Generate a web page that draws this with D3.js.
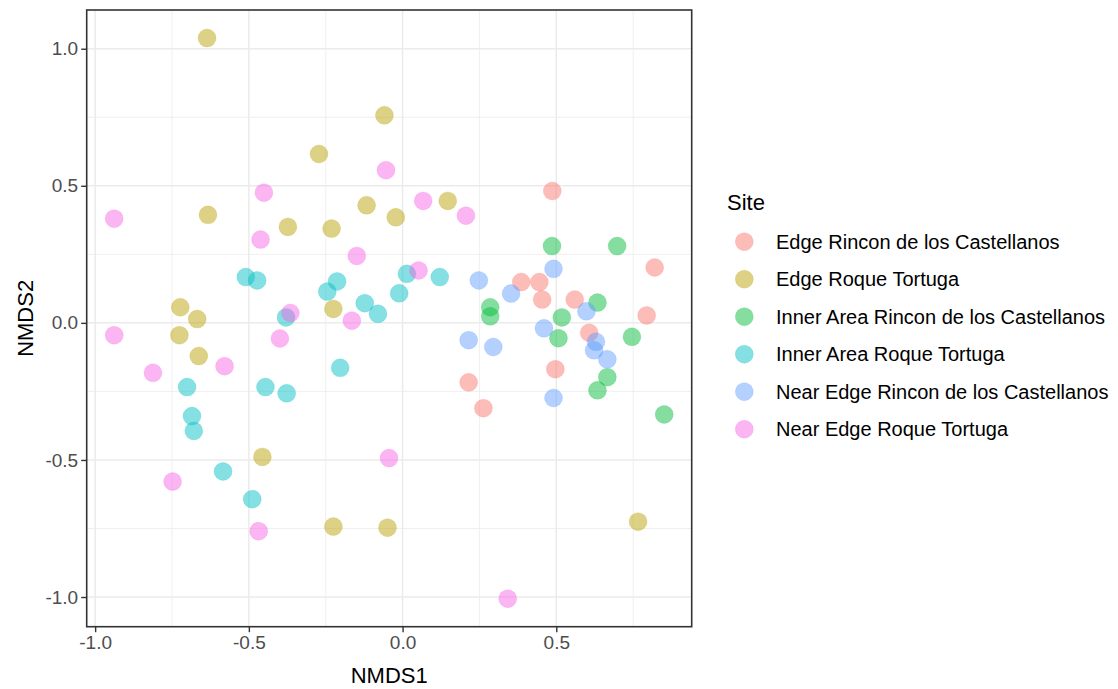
<!DOCTYPE html>
<html><head><meta charset="utf-8">
<script src="https://cdn.jsdelivr.net/npm/d3@7/dist/d3.min.js"></script>
<style>
body{margin:0;background:#fff}
svg{display:block}
text{font-family:"Liberation Sans",Arial,sans-serif}
</style>
</head><body>
<svg id="chart" width="1118" height="689"></svg>
<script>
// ---- data ----
const sites = ["Edge Rincon de los Castellanos","Edge Roque Tortuga","Inner Area Rincon de los Castellanos","Inner Area Roque Tortuga","Near Edge Rincon de los Castellanos","Near Edge Roque Tortuga"];
const siteColors = ["#F8766D","#B79F00","#00BA38","#00BFC4","#619CFF","#F564E3"];

const edgeRinconX = [0.487,0.820,0.386,0.445,0.454,0.560,0.794,0.607,0.497,0.215,0.263];
const edgeRinconY = [0.481,0.202,0.149,0.149,0.085,0.085,0.027,-0.036,-0.169,-0.217,-0.311];

const edgeRoqueX = [-0.636,-0.059,-0.272,-0.633,-0.117,-0.022,-0.373,-0.231,0.147,-0.723,-0.668,-0.225,-0.726,-0.663,-0.456,-0.225,-0.049,0.766];
const edgeRoqueY = [1.039,0.757,0.616,0.394,0.429,0.385,0.350,0.344,0.445,0.057,0.014,0.051,-0.045,-0.121,-0.489,-0.743,-0.747,-0.725];

const innerRinconX = [0.486,0.698,0.285,0.285,0.634,0.518,0.507,0.746,0.666,0.634,0.851];
const innerRinconY = [0.280,0.280,0.057,0.024,0.074,0.020,-0.056,-0.051,-0.198,-0.246,-0.334];

const innerRoqueX = [-0.510,-0.473,-0.213,-0.245,0.014,-0.011,0.121,-0.123,-0.080,-0.379,-0.701,-0.446,-0.377,-0.203,-0.685,-0.679,-0.584,-0.489];
const innerRoqueY = [0.167,0.155,0.151,0.114,0.179,0.108,0.167,0.072,0.033,0.020,-0.234,-0.234,-0.257,-0.164,-0.340,-0.394,-0.542,-0.643];

const nearRinconX = [0.491,0.248,0.353,0.598,0.460,0.629,0.623,0.666,0.215,0.295,0.491];
const nearRinconY = [0.197,0.155,0.107,0.042,-0.020,-0.069,-0.100,-0.133,-0.063,-0.088,-0.274];

const nearRoqueX = [-0.938,-0.938,-0.812,-0.748,-0.579,-0.451,-0.462,-0.365,-0.399,-0.468,-0.054,-0.149,-0.165,-0.044,0.067,0.206,0.052,0.342];
const nearRoqueY = [0.380,-0.045,-0.182,-0.579,-0.158,0.475,0.304,0.036,-0.057,-0.760,0.557,0.244,0.008,-0.493,0.445,0.391,0.191,-1.006];

const xTicks = [-1.0,-0.5,0.0,0.5];
const yTicks = [-1.0,-0.5,0.0,0.5,1.0];
const xMinor = [-0.75,-0.25,0.25,0.75];
const yMinor = [-0.75,-0.25,0.25,0.75];
const xTitle = "NMDS1", yTitle = "NMDS2", legendTitle = "Site";

// ---- build table ----
const seriesX = [edgeRinconX,edgeRoqueX,innerRinconX,innerRoqueX,nearRinconX,nearRoqueX];
const seriesY = [edgeRinconY,edgeRoqueY,innerRinconY,innerRoqueY,nearRinconY,nearRoqueY];
const points = [];
sites.forEach((s,i)=>seriesX[i].forEach((x,j)=>points.push({site:s,x:x,y:seriesY[i][j]})));

// ---- layout ----
const panel = {left:86.7, right:691.7, top:10, bottom:626.7};
const svg = d3.select("#chart");
svg.append("rect").attr("width",1118).attr("height",689).attr("fill","#fff");

function expand(ext){const r=ext[1]-ext[0];return [ext[0]-0.05*r, ext[1]+0.05*r];}
const x = d3.scaleLinear().domain(expand(d3.extent(points,d=>d.x))).range([panel.left,panel.right]);
const y = d3.scaleLinear().domain(expand(d3.extent(points,d=>d.y))).range([panel.bottom,panel.top]);
const color = d3.scaleOrdinal().domain(sites).range(siteColors);

const g = svg.append("g");
// grid
g.selectAll(".xminor").data(xMinor).join("line").attr("x1",d=>x(d)).attr("x2",d=>x(d)).attr("y1",panel.top).attr("y2",panel.bottom).attr("stroke","#EBEBEB").attr("stroke-width",0.8);
g.selectAll(".yminor").data(yMinor).join("line").attr("y1",d=>y(d)).attr("y2",d=>y(d)).attr("x1",panel.left).attr("x2",panel.right).attr("stroke","#EBEBEB").attr("stroke-width",0.8);
g.selectAll(".xmajor").data(xTicks).join("line").attr("x1",d=>x(d)).attr("x2",d=>x(d)).attr("y1",panel.top).attr("y2",panel.bottom).attr("stroke","#EBEBEB").attr("stroke-width",1.5);
g.selectAll(".ymajor").data(yTicks).join("line").attr("y1",d=>y(d)).attr("y2",d=>y(d)).attr("x1",panel.left).attr("x2",panel.right).attr("stroke","#EBEBEB").attr("stroke-width",1.5);

// points
g.append("g").selectAll("circle").data(points).join("circle")
  .attr("cx",d=>x(d.x)).attr("cy",d=>y(d.y)).attr("r",9)
  .attr("fill",d=>color(d.site)).attr("fill-opacity",0.48)
  .attr("stroke",d=>color(d.site)).attr("stroke-opacity",0.18).attr("stroke-width",1);

// border
svg.append("rect").attr("x",panel.left).attr("y",panel.top).attr("width",panel.right-panel.left).attr("height",panel.bottom-panel.top)
  .attr("fill","none").attr("stroke","#333333").attr("stroke-width",1.6);

// axes
const fmt = d=>d.toFixed(1);
const xAxis = svg.append("g").attr("transform",`translate(0,${panel.bottom})`)
  .call(d3.axisBottom(x).tickValues(xTicks).tickFormat(fmt).tickSize(5.5).tickPadding(3));
const yAxis = svg.append("g").attr("transform",`translate(${panel.left},0)`)
  .call(d3.axisLeft(y).tickValues(yTicks).tickFormat(fmt).tickSize(5.5).tickPadding(3));
[xAxis,yAxis].forEach(a=>{
  a.select(".domain").remove();
  a.selectAll(".tick line").attr("stroke","#333333").attr("stroke-width",1.4);
  a.selectAll(".tick text").attr("fill","#4D4D4D").style("font-size","19px").style("font-family",'"Liberation Sans",Arial,sans-serif');
});

svg.append("text").attr("x",(panel.left+panel.right)/2).attr("y",683).attr("text-anchor","middle")
  .style("font-size","22px").attr("fill","#000").text(xTitle);
svg.append("text").attr("transform",`translate(33,${(panel.top+panel.bottom)/2}) rotate(-90)`).attr("text-anchor","middle")
  .style("font-size","22px").attr("fill","#000").text(yTitle);

// legend
const leg = svg.append("g");
leg.append("text").attr("x",727).attr("y",210).style("font-size","22px").attr("fill","#000").text(legendTitle);
const rows = leg.selectAll(".row").data(sites).join("g").attr("transform",(d,i)=>`translate(0,${241.7+37.5*i})`);
rows.append("circle").attr("cx",744.3).attr("cy",0).attr("r",9)
  .attr("fill",d=>color(d)).attr("fill-opacity",0.48).attr("stroke",d=>color(d)).attr("stroke-opacity",0.18);
rows.append("text").attr("x",776).attr("y",0).attr("dy","0.36em").style("font-size","20px").attr("fill","#000").text(d=>d);
</script>
</body></html>
